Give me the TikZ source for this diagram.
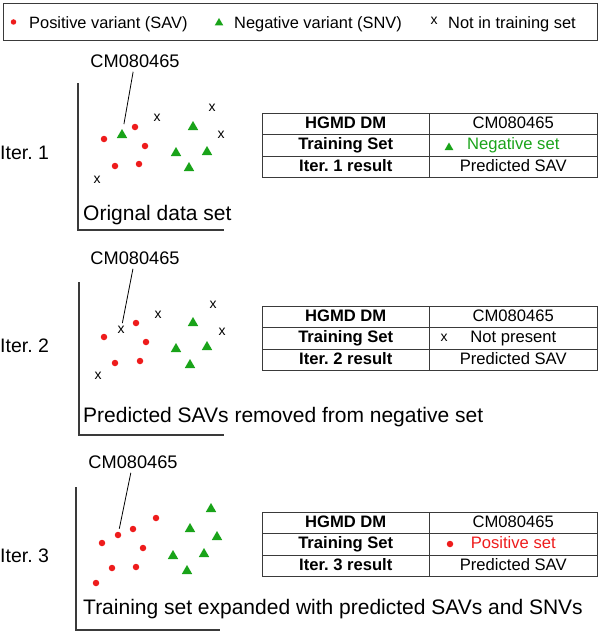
\documentclass[tikz,border=0pt]{standalone}
\usepackage{fontspec}
\setmainfont{Liberation Sans}
\usetikzlibrary{positioning,shapes.geometric}
\definecolor{savR}{HTML}{EE1C1C}
\definecolor{snvG}{HTML}{19A319}
\definecolor{lineK}{HTML}{3A3A3A}
\frenchspacing

\begin{document}
\begin{tikzpicture}[x=1pt,y=-1pt,
  sav/.style={circle,fill=savR,inner sep=0pt,minimum size=6.5pt},
  snv/.style={regular polygon,regular polygon sides=3,fill=snvG,inner sep=0pt,minimum size=12pt},
  nts/.style={inner sep=0pt,font=\fontsize{14}{14}\selectfont},
  cell/.style={draw=lineK,line width=.8pt,outer sep=0pt,inner sep=0pt,minimum width=167.5pt,minimum height=21.5pt,text height=11pt,text depth=2.5pt,font=\fontsize{16.6}{18}\selectfont},
  hd/.style={cell,font=\fontsize{16.6}{18}\selectfont\bfseries},
  iter/.style={anchor=base west,inner sep=0pt,font=\fontsize{19.5}{20}\selectfont},
  capt/.style={anchor=base west,inner sep=0pt,font=\fontsize{21}{22}\selectfont},
  cmid/.style={anchor=base,inner sep=0pt,font=\fontsize{18.2}{19}\selectfont},
  leg/.style={anchor=base west,inner sep=0pt,font=\fontsize{16.4}{18}\selectfont},
  axis/.style={draw=lineK,line width=1.3pt},
  pointer/.style={line width=.8pt,shorten <=4pt}]
\useasboundingbox (0,0) rectangle (600,634);

% legend
\node[draw=lineK,line width=.8pt,minimum width=594pt,minimum height=37pt,inner sep=0pt] (legend) at (300,21.5) {};
\node[sav,minimum size=5.5pt] (legSAV) at (13.5,22) {};
\node[leg] (legSAVt) at (29,28.5) {Positive variant (SAV)};
\node[snv,minimum size=10pt] (legSNV) at (219,23) {};
\node[leg] (legSNVt) at (234,28.5) {Negative variant (SNV)};
\node[nts] (legNT) at (434,21) {x};
\node[leg] (legNTt) at (448,28.5) {Not in training set};

% iteration 1
\node[iter] (it1) at (0,159) {Iter. 1};
\draw[axis] (78,83) |- (224,230);
\foreach \p [count=\i] in {(104,139),(135,127),(145,146),(115,166),(139,164)}
  \node[sav] (a-sav\i) at \p {};
\foreach \p [count=\i] in {(193,127),(176,153),(207,152),(189,168)}
  \node[snv] (a-snv\i) at \p {};
\foreach \p [count=\i] in {(97,180),(157,118),(212,108),(221,135)}
  \node[nts] (a-nt\i) at \p {x};
\node[snv] (a-dm) at (122,135) {};
\node[cmid] (a-cm) at (135,67.5) {CM080465};
\draw[pointer,shorten >=6pt] (a-cm) -- (a-dm);
\node[capt] (a-cap) at (83,220.5) {Orignal data set};
\node[hd,anchor=north west] (a-r1) at (262,113) {HGMD DM};
\node[cell,right=0pt of a-r1] (a-v1) {CM080465};
\node[hd,below=0pt of a-r1] (a-r2) {Training Set};
\node[cell,right=0pt of a-r2,text=snvG] (a-v2) {Negative set};
\node[hd,below=0pt of a-r2] (a-r3) {Iter. 1 result};
\node[cell,right=0pt of a-r3] (a-v3) {Predicted SAV};
\node[snv,minimum size=10pt] (a-mk) at (449,147.5) {};

% iteration 2
\node[iter] (it2) at (0,352) {Iter. 2};
\draw[axis] (79,282) |- (224,435);
\foreach \p [count=\i] in {(104,337),(136,323),(146,342),(115,363),(140,361)}
  \node[sav] (b-sav\i) at \p {};
\foreach \p [count=\i] in {(193,323),(176,349),(207,347),(190,365)}
  \node[snv] (b-snv\i) at \p {};
\foreach \p [count=\i] in {(98,376),(158,315),(213,305),(222,332)}
  \node[nts] (b-nt\i) at \p {x};
\node[nts] (b-dm) at (121,330) {x};
\node[cmid] (b-cm) at (135,264.5) {CM080465};
\draw[pointer,shorten >=3pt] (b-cm) -- (b-dm);
\node[capt] (b-cap) at (83,422.5) {Predicted SAVs removed from negative set};
\node[hd,anchor=north west] (b-r1) at (262,306) {HGMD DM};
\node[cell,right=0pt of b-r1] (b-v1) {CM080465};
\node[hd,below=0pt of b-r1] (b-r2) {Training Set};
\node[cell,right=0pt of b-r2] (b-v2) {Not present};
\node[hd,below=0pt of b-r2] (b-r3) {Iter. 2 result};
\node[cell,right=0pt of b-r3] (b-v3) {Predicted SAV};
\node[nts] (b-mk) at (444,338) {x};

% iteration 3
\node[iter] (it3) at (0,562) {Iter. 3};
\draw[axis] (76,487) |- (220,630);
\foreach \p [count=\i] in {(102,543),(133,529),(156,518),(143,548),(112,568),(136,567),(96,583)}
  \node[sav] (c-sav\i) at \p {};
\foreach \p [count=\i] in {(211,509),(190,529),(217,537),(173,556),(204,554),(187,571)}
  \node[snv] (c-snv\i) at \p {};
\node[sav] (c-dm) at (118,535) {};
\node[cmid] (c-cm) at (133,468.5) {CM080465};
\draw[pointer,shorten >=3pt] (c-cm) -- (c-dm);
\node[capt] (c-cap) at (83,614.5) {Training set expanded with predicted SAVs and SNVs};
\node[hd,anchor=north west] (c-r1) at (262,512) {HGMD DM};
\node[cell,right=0pt of c-r1] (c-v1) {CM080465};
\node[hd,below=0pt of c-r1] (c-r2) {Training Set};
\node[cell,right=0pt of c-r2,text=savR] (c-v2) {Positive set};
\node[hd,below=0pt of c-r2] (c-r3) {Iter. 3 result};
\node[cell,right=0pt of c-r3] (c-v3) {Predicted SAV};
\node[sav] (c-mk) at (450,544) {};
\end{tikzpicture}
\end{document}
